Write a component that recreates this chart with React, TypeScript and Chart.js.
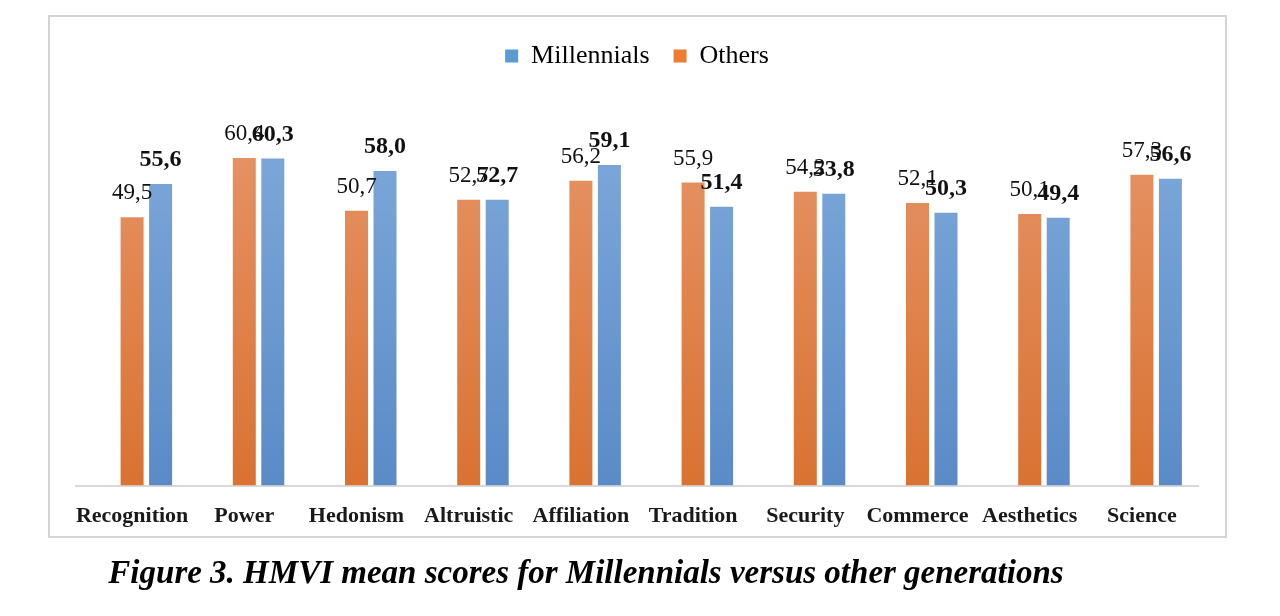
import { useEffect, useRef } from 'react'
import { Chart, registerables } from 'chart.js'

Chart.register(...registerables)

const categories = [
  'Recognition',
  'Power',
  'Hedonism',
  'Altruistic',
  'Affiliation',
  'Tradition',
  'Security',
  'Commerce',
  'Aesthetics',
  'Science',
]
const others = [49.5, 60.4, 50.7, 52.7, 56.2, 55.9, 54.2, 52.1, 50.1, 57.3]
const millennials = [55.6, 60.3, 58.0, 52.7, 59.1, 51.4, 53.8, 50.3, 49.4, 56.6]
const spacer = categories.map(() => null)

const fmt = (v: number) => v.toFixed(1).replace('.', ',')

const gradient = (chart: Chart, top: string, bottom: string, solid: string) => {
  const area = chart.chartArea
  if (!area) return solid
  const g = chart.ctx.createLinearGradient(0, area.top, 0, area.bottom)
  g.addColorStop(0, top)
  g.addColorStop(1, bottom)
  return g
}

// draws the value above each bar, Millennials in bold
const valueLabels = {
  id: 'valueLabels',
  afterDatasetsDraw(chart: Chart) {
    const ctx = chart.ctx
    ctx.save()
    ctx.textAlign = 'center'
    ctx.textBaseline = 'middle'
    ctx.fillStyle = '#111'
    ;[1, 2].forEach((di) => {
      const meta = chart.getDatasetMeta(di)
      const values = chart.data.datasets[di].data as number[]
      ctx.font = di === 2 ? 'bold 24px "Liberation Serif"' : '23px "Liberation Serif"'
      meta.data.forEach((bar, j) => {
        const { x, y } = bar.getProps(['x', 'y'], true)
        ctx.fillText(fmt(values[j]), x, y - 24)
      })
    })
    ctx.restore()
  },
}

// extra space under the legend
const legendGap = {
  id: 'legendGap',
  beforeInit(chart: any) {
    const fit = chart.legend.fit
    chart.legend.fit = function () {
      fit.bind(chart.legend)()
      this.height += 27
    }
  },
}

export default function App() {
  const chartRef = useRef<HTMLCanvasElement>(null)
  const chartInstanceRef = useRef<Chart | null>(null)

  useEffect(() => {
    if (!chartRef.current) return
    const ctx = chartRef.current.getContext('2d')
    if (!ctx) return

    if (chartInstanceRef.current) {
      chartInstanceRef.current.destroy()
    }

    chartInstanceRef.current = new Chart(ctx, {
      type: 'bar',
      data: {
        labels: categories,
        datasets: [
          { label: '', data: spacer, backgroundColor: 'transparent' },
          {
            label: 'Others',
            data: others,
            backgroundColor: (c: any) => gradient(c.chart, '#e7966a', '#d97232', '#ed7d31'),
          },
          {
            label: 'Millennials',
            data: millennials,
            backgroundColor: (c: any) => gradient(c.chart, '#80aadb', '#5a8bc7', '#5b9bd5'),
          },
        ],
      },
      options: {
        responsive: true,
        maintainAspectRatio: false,
        animation: false,
        datasets: {
          bar: { categoryPercentage: 0.762, barPercentage: 0.807 },
        },
        layout: { padding: { left: 26, right: 27, top: 2, bottom: 8 } },
        scales: {
          x: {
            grid: { display: false, drawTicks: false },
            border: { display: true, color: '#d9d9d9', width: 2 },
            ticks: {
              color: '#1a1a1a',
              padding: 18,
              maxRotation: 0,
              minRotation: 0,
              autoSkip: false,
              font: { family: '"Liberation Serif"', size: 22, weight: 'bold' },
            },
          },
          y: { display: false, min: 0, max: 70 },
        },
        plugins: {
          legend: {
            position: 'top',
            labels: {
              color: '#111',
              boxWidth: 13,
              boxHeight: 13,
              padding: 24,
              font: { family: '"Liberation Serif"', size: 26 },
              generateLabels: () => [
                { text: 'Millennials', fillStyle: '#5b9bd5', strokeStyle: '#5b9bd5', lineWidth: 0, datasetIndex: 2 },
                { text: 'Others', fillStyle: '#ed7d31', strokeStyle: '#ed7d31', lineWidth: 0, datasetIndex: 1 },
              ],
            },
          },
          tooltip: { enabled: false },
        },
      },
      plugins: [valueLabels, legendGap],
    })

    return () => {
      chartInstanceRef.current?.destroy()
      chartInstanceRef.current = null
    }
  }, [])

  return (
    <div style={{ position: 'relative', width: 1264, height: 600 }}>
      <div
        style={{
          position: 'absolute',
          left: 40,
          top: 7,
          width: 1179,
          height: 523,
          boxSizing: 'border-box',
          border: '2px solid #d4d4d4',
          background: '#fff',
        }}
      />
      <div style={{ position: 'absolute', left: 42, top: 9, width: 1175, height: 539 }}>
        <canvas ref={chartRef}></canvas>
      </div>
      <div
        style={{
          position: 'absolute',
          left: 0,
          top: 546,
          width: 1156,
          textAlign: 'center',
          fontFamily: '"Liberation Serif"',
          fontWeight: 'bold',
          fontStyle: 'italic',
          fontSize: 33,
          color: '#000',
        }}
      >
        Figure 3. HMVI mean scores for Millennials versus other generations
      </div>
    </div>
  )
}
